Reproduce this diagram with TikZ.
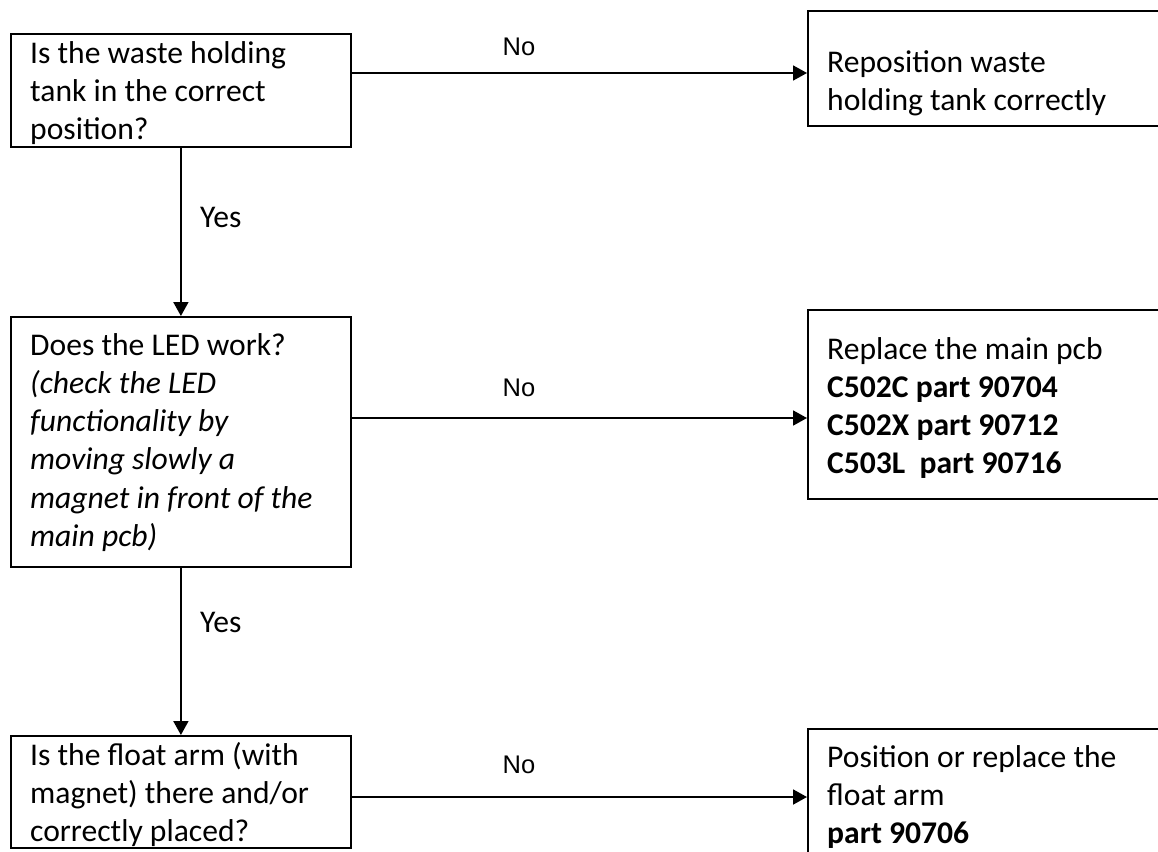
\documentclass[tikz,border=0pt]{standalone}
\usepackage{fontspec}
\setmainfont{Carlito}
\newfontfamily\nofont{Liberation Sans}
\usetikzlibrary{arrows.meta}
\begin{document}
\begin{tikzpicture}[x=1pt, y=-1pt]
    \tikzset{>={Triangle[length=14pt, width=15pt]}}
    \tikzset{box/.style={draw, line width=1.8pt, inner sep=0pt, anchor=north west},
             txt/.style={anchor=base west, align=left, inner sep=0pt, font=\fontsize{31.6}{38.3}\selectfont},
             lbl/.style={anchor=base, inner sep=0pt, font=\nofont\fontsize{25.5}{29}\selectfont},
             yes/.style={anchor=base west, inner sep=0pt, font=\fontsize{31.6}{38}\selectfont}}
    \useasboundingbox (0,0) rectangle (1158,851);
    \clip (0,0) rectangle (1158,851);
    % left column
    \node [box, minimum width=340pt, minimum height=113pt] (tank) at (10,33) {};
    \node [box, minimum width=340pt, minimum height=250pt] (led) at (10,316) {};
    \node [box, minimum width=340pt, minimum height=112pt] (float) at (10,735) {};
    \node [txt] (tanktext) at (30,139.6) {Is the waste holding\\tank in the correct\\position?};
    \node [txt] (ledtext) at (30,546.5) {Does the LED work?\\\itshape (check the LED\\\itshape functionality by\\\itshape moving slowly a\\\itshape magnet in front of the\\\itshape main pcb)};
    \node [txt] (floattext) at (30,841.6) {Is the float arm (with\\magnet) there and/or\\correctly placed?};
    % right column
    \node [box, minimum width=400pt, minimum height=115pt] (repos) at (807,10) {};
    \node [box, minimum width=400pt, minimum height=189pt] (pcb) at (807,309) {};
    \node [box, minimum width=400pt, minimum height=200pt] (arm) at (807,728) {};
    \node [txt] (repostext) at (827,110.3) {Reposition waste\\holding tank correctly};
    \node [txt] (pcbtext) at (827,473.9) {Replace the main pcb\\\bfseries C502C part 90704\\\bfseries C502X part 90712\\\bfseries C503L~ part 90716};
    \node [txt] (armtext) at (827,843.6) {Position or replace the\\float arm\\\bfseries part 90706};
    % connectors
    \draw [->, line width=1.8pt] (tank) -- (led);
    \draw [->, line width=1.8pt] (led) -- (float);
    \coordinate (no1) at ([yshift=-40pt]tank.north east);
    \coordinate (no2) at ([yshift=-102pt]led.north east);
    \coordinate (no3) at ([yshift=-62pt]float.north east);
    \draw [->, line width=1.8pt] (no1) -- (no1 -| repos.west);
    \draw [->, line width=1.8pt] (no2) -- (no2 -| pcb.west);
    \draw [->, line width=1.8pt] (no3) -- (no3 -| arm.west);
    \node [lbl] (no1label) at (519,56) {No};
    \node [lbl] (no2label) at (519,396) {No};
    \node [lbl] (no3label) at (519,773) {No};
    \node [yes] (yes1label) at (200,227) {Yes};
    \node [yes] (yes2label) at (200,632) {Yes};
\end{tikzpicture}
\end{document}
